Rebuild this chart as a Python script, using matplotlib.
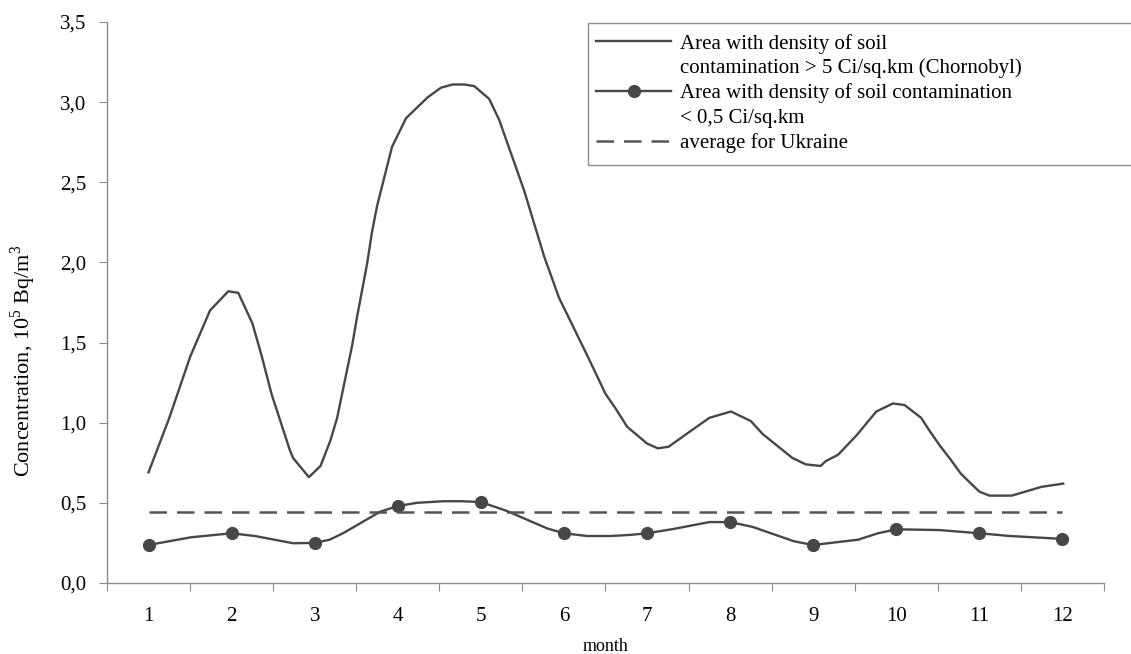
import numpy as np
import matplotlib
matplotlib.use("Agg")
import matplotlib.pyplot as plt
from matplotlib.lines import Line2D
from matplotlib.patches import Rectangle

plt.rcParams['font.family'] = ['Liberation Serif', 'DejaVu Serif']
plt.rcParams['mathtext.fontset'] = 'custom'
plt.rcParams['mathtext.rm'] = 'Liberation Serif'

months = list(range(1, 13))

# Chornobyl zone (> 5 Ci/sq.km)
hi_month = [1.00, 1.25, 1.50, 1.74, 1.96, 2.08, 2.25, 2.36, 2.48, 2.70, 2.74, 2.93,
            3.07, 3.19, 3.27, 3.45, 3.51, 3.63, 3.69, 3.75, 3.93, 4.10, 4.36, 4.52,
            4.66, 4.80, 4.92, 5.10, 5.22, 5.52, 5.76, 5.94, 6.28, 6.50, 6.62, 6.76,
            7.00, 7.13, 7.26, 7.53, 7.75, 8.01, 8.25, 8.39, 8.75, 8.91, 9.09, 9.15,
            9.30, 9.52, 9.76, 9.96, 10.10, 10.30, 10.40, 10.52, 10.64, 10.78, 11.00,
            11.12, 11.39, 11.75, 12.01]
hi_conc = [0.69, 1.03, 1.41, 1.70, 1.82, 1.81, 1.62, 1.42, 1.18, 0.83, 0.78, 0.66,
           0.73, 0.89, 1.03, 1.48, 1.66, 1.99, 2.19, 2.35, 2.72, 2.90, 3.03, 3.09,
           3.11, 3.11, 3.10, 3.02, 2.89, 2.45, 2.04, 1.78, 1.42, 1.18, 1.09, 0.975,
           0.87, 0.84, 0.85, 0.95, 1.03, 1.07, 1.01, 0.93, 0.78, 0.74, 0.73, 0.76,
           0.80, 0.92, 1.07, 1.12, 1.11, 1.03, 0.95, 0.86, 0.78, 0.68, 0.57,
           0.545, 0.545, 0.60, 0.62]

# clean area (< 0.5 Ci/sq.km); markers sit on whole months
lo_month = [1, 1.51, 2, 2.28, 2.74, 3, 3.18, 3.34, 3.79, 4, 4.23, 4.55, 4.77, 5,
            5.31, 5.80, 6, 6.28, 6.56, 6.80, 7, 7.32, 7.75, 8, 8.27, 8.77, 9,
            9.54, 9.78, 10, 10.52, 11, 11.37, 12]
lo_conc = [0.237, 0.285, 0.31, 0.293, 0.248, 0.25, 0.27, 0.31, 0.445, 0.48, 0.50,
           0.51, 0.51, 0.505, 0.45, 0.34, 0.31, 0.293, 0.293, 0.30, 0.31, 0.337,
           0.38, 0.38, 0.35, 0.26, 0.237, 0.27, 0.31, 0.335, 0.33, 0.31, 0.293, 0.275]

avg_ukraine = 0.445

yticks = np.arange(0, 3.51, 0.5)
ytick_labels = [f"{v:.1f}".replace('.', ',') for v in yticks]

line_col = '#474747'
axis_col = '#8c8c8c'

fig = plt.figure(figsize=(11.31, 6.54), dpi=100)
ax = fig.add_axes([0.0946, 0.1086, 0.8815, 0.8578])

ax.plot(hi_month, hi_conc, color=line_col, lw=1.7)
marker_idx = [lo_month.index(m) for m in months]
ax.plot(lo_month, lo_conc, color=line_col, lw=1.7, marker='o', markersize=8.5,
        markevery=marker_idx)
ax.plot([months[0], months[-1]], [avg_ukraine, avg_ukraine], color='#555555',
        lw=1.8, dashes=(7, 4))

ax.set_xlim(0.5, 12.5)
ax.set_ylim(0, 3.5)

# category ticks between months, labels on the months
ax.set_xticks(np.arange(0.5, 13, 1))
ax.set_xticklabels([])
ax.set_xticks(months, minor=True)
ax.set_xticklabels([str(m) for m in months], minor=True)
ax.tick_params(axis='x', which='major', length=6, color=axis_col, direction='out')
ax.tick_params(axis='x', which='minor', length=0, pad=17, labelsize=15)

ax.set_yticks(yticks)
ax.set_yticklabels(ytick_labels)
ax.tick_params(axis='y', length=6, color=axis_col, pad=9, labelsize=15)

for side in ['top', 'right']:
    ax.spines[side].set_visible(False)
for side in ['left', 'bottom']:
    ax.spines[side].set_color(axis_col)
    ax.spines[side].set_linewidth(1.0)

ax.set_xlabel('month', fontsize=13, labelpad=9)
ax.set_ylabel(r'Concentration, 10$^{5}$ Bq/m$^{3}$', fontsize=16)
ax.yaxis.set_label_coords(-0.069, 0.396)

blank = Line2D([], [], color='none')
handles = [
    Line2D([], [], color=line_col, lw=1.7),
    blank,
    Line2D([], [], color=line_col, lw=1.7, marker='o', markersize=8.5),
    blank,
    Line2D([], [], color='#555555', lw=1.8, dashes=(7, 4)),
]
labels = [
    'Area with density of soil',
    'contamination > 5 Ci/sq.km (Chornobyl)',
    'Area with density of soil contamination',
    '< 0,5 Ci/sq.km',
    'average for Ukraine',
]
ax.legend(handles, labels, loc='upper left', bbox_to_anchor=(0.4905, 0.979),
          fontsize=15, frameon=False, handlelength=3.6, handletextpad=0.43,
          labelspacing=0.24, borderpad=0, borderaxespad=0)

# legend box runs off the right edge of the figure
fig.patches.append(Rectangle((588 / 1131, 1 - 165 / 654), 600 / 1131, 142 / 654,
                             transform=fig.transFigure, fill=False,
                             edgecolor=axis_col, lw=1.0))

fig.savefig('out.png', dpi=100)
